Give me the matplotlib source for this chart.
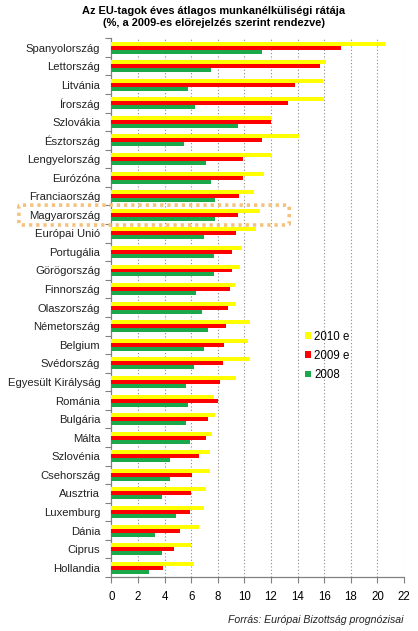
import matplotlib
matplotlib.use("Agg")
import matplotlib.pyplot as plt
from matplotlib.patches import FancyBboxPatch, Patch
import numpy as np

plt.rcParams['font.family'] = ['Liberation Sans', 'DejaVu Sans']

countries = ["Spanyolország", "Lettország", "Litvánia", "Írország", "Szlovákia",
             "Észtország", "Lengyelország", "Eurózóna", "Franciaország", "Magyarország",
             "Európai Unió", "Portugália", "Görögország", "Finnország", "Olaszország",
             "Németország", "Belgium", "Svédország", "Egyesült Királyság", "Románia",
             "Bulgária", "Málta", "Szlovénia", "Csehország", "Ausztria",
             "Luxemburg", "Dánia", "Ciprus", "Hollandia"]
v2010 = [20.6, 16.1, 15.9, 16.0, 12.1, 14.1, 12.1, 11.5, 10.7, 11.2,
         10.9, 9.8, 9.7, 9.3, 9.4, 10.4, 10.3, 10.4, 9.4, 7.7,
         7.8, 7.6, 7.4, 7.4, 7.1, 7.0, 6.6, 6.0, 6.2]
v2009 = [17.3, 15.7, 13.8, 13.3, 12.0, 11.3, 9.9, 9.9, 9.6, 9.5,
         9.4, 9.1, 9.1, 8.9, 8.8, 8.6, 8.5, 8.4, 8.2, 8.0,
         7.3, 7.1, 6.6, 6.1, 6.0, 5.9, 5.2, 4.7, 3.9]
v2008 = [11.3, 7.5, 5.8, 6.3, 9.5, 5.5, 7.1, 7.5, 7.8, 7.8,
         7.0, 7.7, 7.7, 6.4, 6.8, 7.3, 7.0, 6.2, 5.6, 5.8,
         5.6, 5.9, 4.4, 4.4, 3.8, 4.9, 3.3, 3.8, 2.8]
series_labels = ["2010 e", "2009 e", "2008"]
colors = ["#ffff00", "#ff0000", "#1ba84a"]
xticks = list(range(0, 23, 2))
highlight = "Magyarország"

W, H = 418, 631
fig = plt.figure(figsize=(W / 100, H / 100), dpi=100)
ax = fig.add_axes([111.3 / W, 1 - 577 / H, (404 - 111.3) / W, (577 - 38.3) / H])

n = len(countries)
y = np.arange(n)
h = 0.215
for k, (vals, c) in enumerate(zip([v2010, v2009, v2008], colors)):
    ax.barh(y + (k - 1) * h, vals, height=h, color=c, edgecolor='none', zorder=3)

ax.set_xlim(0, 22)
ax.set_ylim(n - 0.5, -0.5)
ax.set_xticks(xticks)
ax.set_xticklabels([str(t) for t in xticks], fontsize=8.3)
ax.set_yticks(y)
ax.set_yticklabels(countries, fontsize=8.1)
ax.set_yticks(np.arange(n + 1) - 0.5, minor=True)
ax.tick_params(axis='y', which='major', length=0, pad=8)
ax.tick_params(axis='y', which='minor', length=4, color='#808080', width=0.8)
ax.tick_params(axis='x', which='major', length=4, color='#808080', width=0.8, pad=6)
for t in ax.get_yticklabels():
    t.set_color('#222222')

for s in ['top', 'right']:
    ax.spines[s].set_visible(False)
for s in ['left', 'bottom']:
    ax.spines[s].set_color('#808080')
    ax.spines[s].set_linewidth(0.9)

for t in xticks[1:]:
    ax.axvline(t, color='#8a8a8a', linestyle=(0, (1, 2)), linewidth=0.8, zorder=1)

# Legend
handles = [Patch(facecolor=c, edgecolor='none') for c in colors]
leg = fig.legend(handles, series_labels, loc='upper left',
                 bbox_to_anchor=(299 / W, 1 - 325 / H), frameon=False, fontsize=8.3,
                 handlelength=0.55, handleheight=0.55, handletextpad=0.25,
                 labelspacing=0.62, borderpad=0)

# Highlight box around Magyarország
idx = countries.index(highlight)
px = 13.29  # px per unit approx for conversion
x0 = (19 - 111.3) / px
x1 = (289 - 111.3) / px
box = FancyBboxPatch((x0, idx - 0.52), x1 - x0, 1.07,
                     boxstyle="round,pad=0,rounding_size=0.3",
                     fill=False, edgecolor='#f5c27e', linewidth=2.6,
                     linestyle=(0, (0.9, 1.1)), clip_on=False, zorder=5,
                     transform=ax.transData, mutation_aspect=0.2)
ax.add_patch(box)

fig.text(214 / W, 1 - 11 / H, "Az EU-tagok éves átlagos munkanélküliségi rátája",
         ha='center', va='center', fontsize=7.9, fontweight='bold')
fig.text(214 / W, 1 - 23 / H, "(%, a 2009-es előrejelzés szerint rendezve)",
         ha='center', va='center', fontsize=7.9, fontweight='bold')
fig.text(403 / W, 1 - 620 / H, "Forrás: Európai Bizottság prognózisai",
         ha='right', va='center', fontsize=7.6, style='italic', color='#222222')

fig.savefig("out.png", dpi=100)
